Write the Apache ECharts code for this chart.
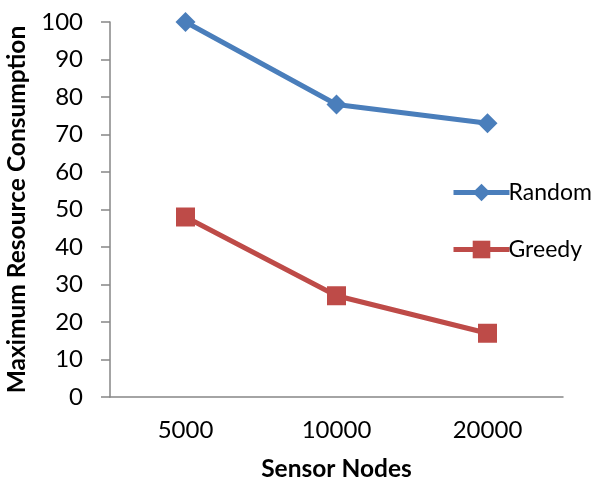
<!DOCTYPE html>
<html><head><meta charset="utf-8">
<script src="https://cdn.jsdelivr.net/npm/echarts@6/dist/echarts.min.js"></script>
<style>html,body{margin:0;padding:0;background:#fff}#c{width:597px;height:482px}</style>
</head><body><div id="c"></div>
<script>
const categories = ['5000', '10000', '20000'];
const randomValues = [100, 78, 73];
const greedyValues = [48, 27, 17];
const yTicks = [0, 10, 20, 30, 40, 50, 60, 70, 80, 90, 100];

const font = 'Lato, "Open Sans", sans-serif';
const chart = echarts.init(document.getElementById('c'));
chart.setOption({
  animation: false,
  grid: {left: 110, right: 34, top: 22, bottom: 85, containLabel: false, outerBoundsMode: 'none'},
  legend: {
    orient: 'vertical', left: 446, top: 176, itemGap: 34,
    itemWidth: 56, itemHeight: 22,
    lineStyle: {width: 5},
    textStyle: {fontFamily: font, fontSize: 23, color: '#000', padding: [0, 0, 0, -6]},
    data: ['Random', 'Greedy']
  },
  xAxis: {
    type: 'category', data: categories,
    name: 'Sensor Nodes', nameLocation: 'middle', nameGap: 60,
    nameTextStyle: {fontFamily: font, fontSize: 24.5, fontWeight: 'bold', color: '#000'},
    axisLine: {lineStyle: {color: '#868686', width: 1.5}},
    axisTick: {show: false},
    axisLabel: {fontFamily: font, fontSize: 24, color: '#000', margin: 21}
  },
  yAxis: {
    type: 'value', min: yTicks[0], max: yTicks[yTicks.length - 1], interval: 10,
    name: 'Maximum Resource Consumption', nameLocation: 'middle', nameGap: 80,
    nameTextStyle: {fontFamily: font, fontSize: 24.5, fontWeight: 'bold', color: '#000'},
    axisLine: {show: true, lineStyle: {color: '#868686', width: 1.5}},
    axisTick: {show: true, length: 9, lineStyle: {color: '#868686', width: 1.5}},
    splitLine: {show: false},
    axisLabel: {fontFamily: font, fontSize: 24, color: '#000', margin: 27}
  },
  series: [
    {name: 'Random', type: 'line', data: randomValues,
     symbol: 'diamond', symbolSize: 20,
     lineStyle: {color: '#4a7ebb', width: 5}, itemStyle: {color: '#4a7ebb'}},
    {name: 'Greedy', type: 'line', data: greedyValues,
     symbol: 'rect', symbolSize: 19,
     lineStyle: {color: '#be4b48', width: 5}, itemStyle: {color: '#be4b48'}}
  ]
});
</script></body></html>
